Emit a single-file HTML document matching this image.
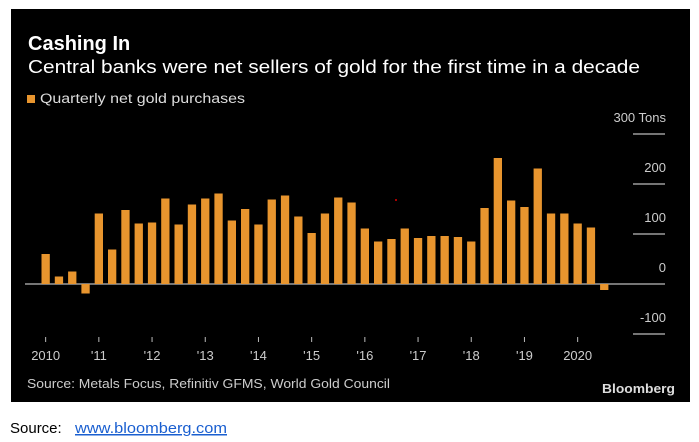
<!DOCTYPE html>
<html><head><meta charset="utf-8"><style>
html,body{margin:0;padding:0;background:#fff;width:699px;height:442px;overflow:hidden}
svg{display:block}
text{font-family:"Liberation Sans",sans-serif}
</style></head><body>
<svg id="chart" width="699" height="442" viewBox="0 0 699 442">
<rect x="11" y="9" width="679" height="393" fill="#000"/>
<text x="28" y="50" font-size="20" font-weight="bold" fill="#fff">Cashing In</text>
<text x="28" y="73" font-size="18" fill="#fff" textLength="612" lengthAdjust="spacingAndGlyphs">Central banks were net sellers of gold for the first time in a decade</text>
<rect x="27" y="95" width="8" height="8" fill="#e8952e"/>
<text x="40" y="103" font-size="13.5" fill="#ddd" textLength="205" lengthAdjust="spacingAndGlyphs">Quarterly net gold purchases</text>
<g id="grid"></g>
<g id="bars"></g>
<g id="xaxis"></g>
<circle cx="396" cy="200" r="1" fill="#d00"/>
<text x="27" y="388" font-size="13" fill="#ccc" textLength="363" lengthAdjust="spacingAndGlyphs">Source: Metals Focus, Refinitiv GFMS, World Gold Council</text>
<text x="675" y="393" font-size="13" font-weight="bold" fill="#ddd" text-anchor="end" textLength="73" lengthAdjust="spacingAndGlyphs">Bloomberg</text>
<text x="10" y="433" font-size="15" fill="#000">Source:</text>
<a href="#"><text x="75" y="433" font-size="15" fill="#1a5fd0" text-decoration="underline" textLength="152" lengthAdjust="spacingAndGlyphs">www.bloomberg.com</text></a>
</svg>
<script>
const values = [60,15,25,-19,141,69,148,121,123,171,119,159,171,181,127,150,119,169,177,135,102,141,173,163,111,85,90,111,92,96,96,94,85,152,252,167,154,231,141,141,121,113,-12];
const yTicks = [300,200,100,0,-100];
const yTickLabels = ["300 Tons","200","100","0","-100"];
const xTickLabels = ["2010","'11","'12","'13","'14","'15","'16","'17","'18","'19","2020"];
const NS="http://www.w3.org/2000/svg";
const y = v => 284 - v*0.5;
const barX = i => 41.5 + i*13.3;
const bw = 8.3;
function mk(t,a,p){const e=document.createElementNS(NS,t);for(const k in a)e.setAttribute(k,a[k]);p.appendChild(e);return e;}
const grid=document.getElementById('grid');
yTicks.forEach((t,i)=>{
  const l=mk('line',{x1:t===0?25:633,x2:665,y1:y(t),y2:y(t),stroke:'#bbb','stroke-width':1.3},grid);
  
  
  const tx=mk('text',{x:666,y:y(t)-12,'font-size':13,fill:'#ccc','text-anchor':'end'},grid);
  tx.textContent=yTickLabels[i];
  
  
});
const bars=document.getElementById('bars');
values.forEach((v,i)=>{
  const r=mk('rect',{x:barX(i),y:Math.min(y(v),y(0)),width:bw,height:Math.abs(y(v)-y(0)),fill:'#e8952e'},bars);
  
  
});
const xa=document.getElementById('xaxis');
xTickLabels.forEach((lab,i)=>{
  const cx=barX(i*4)+bw/2;
  const tk=mk('line',{x1:cx,x2:cx,y1:337,y2:342,stroke:'#bbb','stroke-width':1},xa);
  
  
  const tx=mk('text',{x:cx,y:360,'font-size':13,fill:'#ccc','text-anchor':'middle'},xa);
  tx.textContent=lab;
  
  
});
</script>
</body></html>
